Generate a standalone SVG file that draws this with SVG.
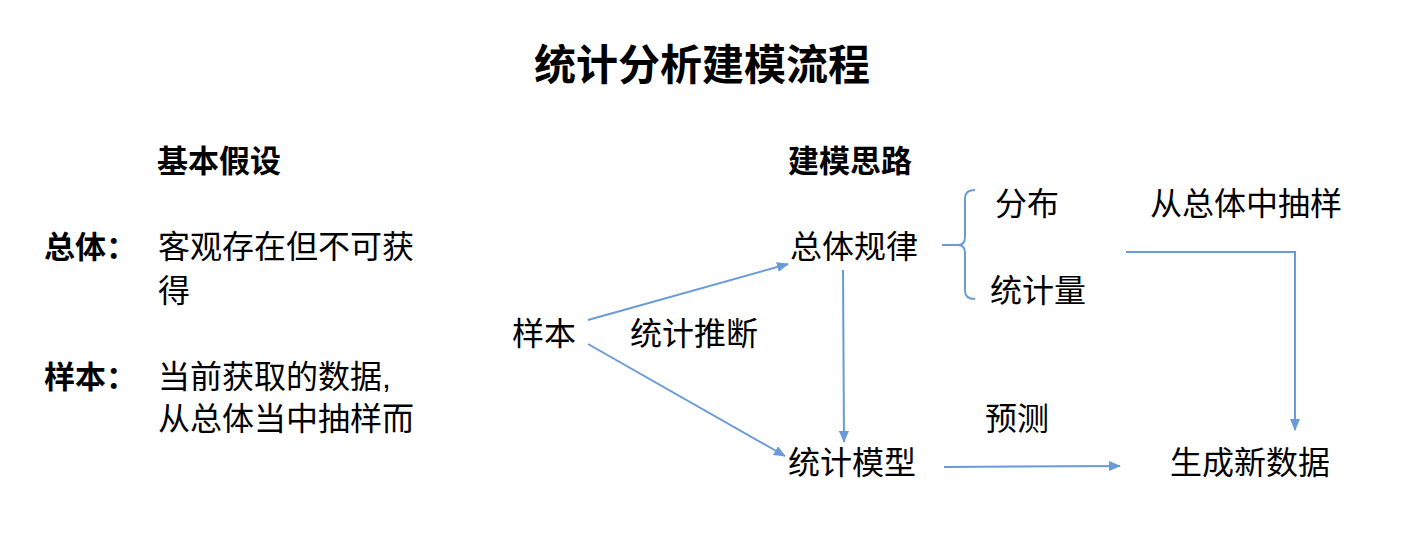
<svg xmlns="http://www.w3.org/2000/svg" width="1404" height="534" viewBox="0 0 1404 534">
<style>
text{font-family:"Liberation Sans","Noto Sans CJK SC",sans-serif;fill:#000}
.t{font-size:42px;font-weight:bold}
.h{font-size:31px;font-weight:bold}
.b{font-size:32px}
.c{stroke:#6a9bd8;stroke-width:2;fill:none}
</style>
<defs><marker id="a" markerWidth="12" markerHeight="10" refX="11" refY="5" orient="auto" markerUnits="userSpaceOnUse"><path d="M0,0L12,5L0,10z" fill="#6a9bd8"/></marker></defs>
<rect width="1404" height="534" fill="#fff"/>
<text class="t" x="702" y="80" text-anchor="middle">统计分析建模流程</text>
<g id="left">
<text class="h" x="157" y="172">基本假设</text>
<text class="h" x="44" y="258">总体：</text>
<text class="b" x="158" y="258">客观存在但不可获</text>
<text class="b" x="158" y="302">得</text>
<text class="h" x="44" y="388">样本：</text>
<text class="b" x="158" y="388">当前获取的数据,</text>
<text class="b" x="158" y="430">从总体当中抽样而</text>
</g>
<text class="h" x="788" y="172">建模思路</text>
<g id="n_sample"><text class="b" x="512" y="345">样本</text></g>
<g id="n_pop"><text class="b" x="790" y="258">总体规律</text></g>
<g id="n_model"><text class="b" x="788" y="474">统计模型</text></g>
<g id="n_gen"><text class="b" x="1170" y="474">生成新数据</text></g>
<g id="n_dist"><text class="b" x="995" y="215">分布</text></g>
<g id="n_stat"><text class="b" x="990" y="302">统计量</text></g>
<text class="b" x="630" y="345">统计推断</text>
<text class="b" x="1150" y="215">从总体中抽样</text>
<text class="b" x="985" y="430">预测</text>
<g id="connectors">
<line class="c" x1="588" y1="320" x2="788" y2="264" marker-end="url(#a)"/>
<line class="c" x1="588" y1="344" x2="785" y2="456" marker-end="url(#a)"/>
<line class="c" x1="843" y1="270" x2="844" y2="442" marker-end="url(#a)"/>
<line class="c" x1="944" y1="467" x2="1120" y2="466" marker-end="url(#a)"/>
<polyline class="c" points="1126,252 1295,252 1295,430" marker-end="url(#a)"/>
<line class="c" x1="942" y1="245" x2="958" y2="245"/>
<path class="c" d="M975,190 Q965,190 965,198 L965,237 Q965,245 958,245 Q965,245 965,253 L965,291 Q965,299 975,299"/>
</g>
</svg>
